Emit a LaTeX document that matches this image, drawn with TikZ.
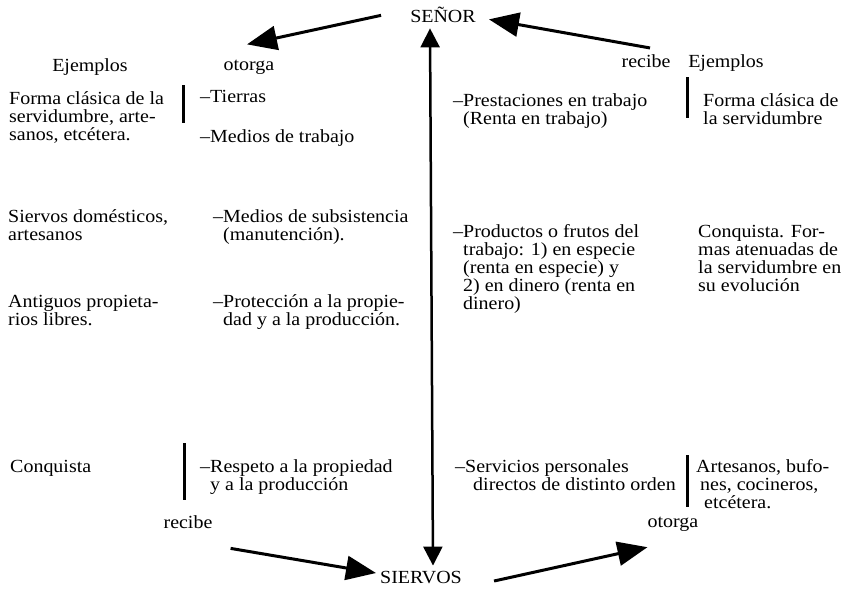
\documentclass[tikz,border=0pt]{standalone}
\usepackage{fontspec}
\setmainfont[FakeStretch=1.08]{Liberation Serif}
\usetikzlibrary{arrows.meta,positioning}
\tikzset{
    lbl/.style={
        anchor=base west,
        inner sep=0pt,
        align=left,
        font=\fontsize{18.5}{18}\selectfont,
    },
    hdr/.style={
        anchor=base,
        inner sep=0pt,
        font=\fontsize{18.5}{18}\selectfont,
    },
    bigarrow/.style={
        -{Triangle[length=30pt,width=24pt]},
        line width=3pt,
    },
    bar/.style={
        line width=3pt,
    },
}

\begin{document}
\begin{tikzpicture}[x=1pt,y=-1pt]
    \useasboundingbox (0,0) rectangle (851,589);

    \node [hdr] (senor) at (443,23) {SEÑOR};
    \node [hdr] (siervos) at (421,583) {SIERVOS};

    \node [hdr] (ej-l) at (90,71) {Ejemplos};
    \node [hdr] (otorga-l) at (249,70) {otorga};
    \node [hdr] (recibe-r) at (646,67) {recibe};
    \node [hdr] (ej-r) at (726,67) {Ejemplos};
    \node [hdr] (recibe-l) at (188,528) {recibe};
    \node [hdr] (otorga-r) at (673,527) {otorga};

    \node [lbl] (forma-l) at (9,140) {Forma clásica de la\\servidumbre, arte-\\sanos, etcétera.};
    \node [lbl] (tierras) at (200,102) {–Tierras};
    \node [lbl] (medios) at (200,142) {–Medios de trabajo};
    \node [lbl] (prest) at (453,124) {–Prestaciones en trabajo\\\phantom{–}(Renta en trabajo)};
    \node [lbl] (forma-r) at (703,124) {Forma clásica de\\la servidumbre};

    \node [lbl] (domest) at (8,240) {Siervos domésticos,\\artesanos};
    \node [lbl] (subsist) at (213,240) {–Medios de subsistencia\\\phantom{–}(manutención).};

    \node [lbl] (antiguos) at (8,325) {Antiguos propieta-\\rios libres.};
    \node [lbl] (protec) at (213,325) {–Protección a la propie-\\\phantom{–}dad y a la producción.};

    \node [lbl] (product) at (453,309) {–Productos o frutos del\\\phantom{–}trabajo: 1) en especie\\\phantom{–}(renta en especie) y\\\phantom{–}2) en dinero (renta en\\\phantom{–}dinero)};
    \node [lbl] (conq-r) at (698,291) {Conquista. For-\\mas atenuadas de\\la servidumbre en\\su evolución};

    \node [lbl] (conq-l) at (10,472) {Conquista};
    \node [lbl] (respeto) at (200,490) {–Respeto a la propiedad\\\phantom{–}y a la producción};
    \node [lbl] (servic) at (455,490) {–Servicios personales\\\hspace{18pt}directos de distinto orden};
    \node [lbl] (artes) at (696,508) {Artesanos, bufo-\\\hspace{4pt}nes, cocineros,\\\hspace{8pt}etcétera.};

    \draw [bar] (183,85) -- (183,123);
    \draw [bar] (687,77) -- (687,118);
    \draw [bar] (184,443) -- (184,500);
    \draw [bar] (687,455) -- (687,507);

    \draw [bigarrow] ([xshift=-29pt]senor.west) -- ([xshift=-2pt,yshift=15pt]otorga-l.north);
    \draw [bigarrow] ([xshift=4pt,yshift=6pt]recibe-r.north) -- ([xshift=13pt,yshift=-4pt]senor.east);
    \draw [{Triangle[length=19pt,width=19pt]}-{Triangle[length=19pt,width=19pt]}, line width=2.5pt]
        ([xshift=-13pt,yshift=-5pt]senor.south) -- ([xshift=12pt,yshift=5pt]siervos.north);
    \draw [bigarrow] ([xshift=18pt,yshift=-20pt]recibe-l.south east) -- ([xshift=-4pt,yshift=4pt]siervos.west);
    \draw [bigarrow] ([xshift=32pt,yshift=-4pt]siervos.east) -- ([yshift=-16pt]otorga-r.south west);
\end{tikzpicture}
\end{document}
